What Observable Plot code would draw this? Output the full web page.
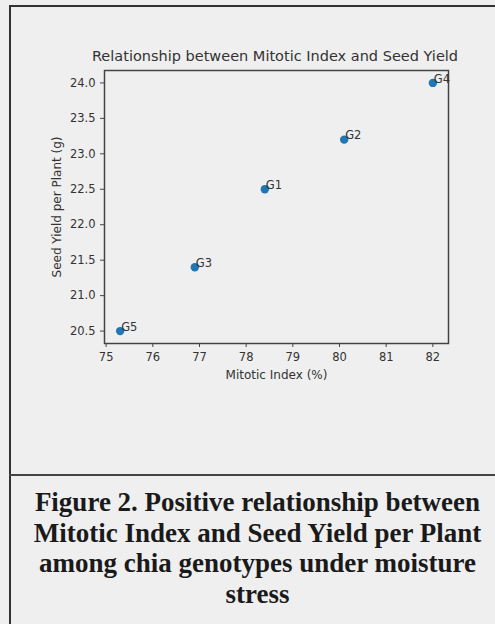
<!DOCTYPE html>
<html>
<head>
<meta charset="utf-8">
<script src="https://cdn.jsdelivr.net/npm/d3@7"></script>
<script src="https://cdn.jsdelivr.net/npm/@observablehq/plot@0.6"></script>
<style>
  html, body { margin: 0; padding: 0; background: #efefef; }
  body { width: 495px; height: 624px; position: relative; overflow: hidden; font-family: "DejaVu Sans", sans-serif; }
  #frame { position: absolute; left: 9px; top: 5px; width: 600px; height: 700px; border-left: 2px solid #333; border-top: 2px solid #333; box-sizing: border-box; }
  #divider { position: absolute; left: 9px; top: 474px; width: 600px; height: 0; border-top: 2px solid #444; }
  #title { position: absolute; left: 0; width: 550px; top: 48px; text-align: center; font-size: 14.5px; color: #333; white-space: nowrap; }
  #chart { position: absolute; left: 0; top: 40px; }
  #caption { position: absolute; left: 10px; width: 495px; top: 487px; text-align: center; font-family: "Liberation Serif", "Times New Roman", serif; font-weight: bold; font-size: 27px; line-height: 30.7px; color: #1a1a1a; white-space: nowrap; }
</style>
</head>
<body>
<div id="frame"></div>
<div id="divider"></div>
<div id="title">Relationship between Mitotic Index and Seed Yield</div>
<div id="chart"></div>
<div id="caption">Figure 2. Positive relationship between<br>Mitotic Index and Seed Yield per Plant<br>among chia genotypes under moisture<br>stress</div>
<script>
const genotypes = ["G1", "G2", "G3", "G4", "G5"];
const mitoticIndex = [78.4, 80.1, 76.9, 82.0, 75.3];
const seedYield = [22.5, 23.2, 21.4, 24.0, 20.5];
const xTicks = [75, 76, 77, 78, 79, 80, 81, 82];
const yTicks = [20.5, 21.0, 21.5, 22.0, 22.5, 23.0, 23.5, 24.0];

const data = genotypes.map((g, i) => ({ g, x: mitoticIndex[i], y: seedYield[i] }));

const chart = Plot.plot({
  width: 495,
  height: 360,
  marginLeft: 104,
  marginRight: 47,
  marginTop: 30,
  marginBottom: 57,
  style: { background: "transparent", fontFamily: "DejaVu Sans, sans-serif", color: "#333" },
  x: { domain: [74.965, 82.335] },
  y: { domain: [20.325, 24.175] },
  marks: [
    Plot.frame({ stroke: "#444", strokeWidth: 1.5 }),
    Plot.axisX({ ticks: xTicks, tickFormat: d => String(d), tickSize: 4, tickPadding: 5, fontSize: 11.5, label: "Mitotic Index (%)", labelAnchor: "center", labelArrow: "none", labelOffset: 35, stroke: "#444" }),
    Plot.axisY({ ticks: yTicks, tickFormat: d => d.toFixed(1), tickSize: 4, tickPadding: 5, fontSize: 11.5, label: "Seed Yield per Plant (g)", labelAnchor: "center", labelArrow: "none", labelOffset: 52, stroke: "#444" }),
    Plot.dot(data, { x: "x", y: "y", r: 4.2, fill: "#1f77b4", stroke: "none" }),
    Plot.text(data, { x: "x", y: "y", text: "g", textAnchor: "start", dx: 1, dy: -4, fontSize: 11.5, fill: "#333" })
  ]
});
// enlarge axis titles slightly
chart.querySelectorAll("[aria-label='x-axis label'] text, [aria-label='y-axis label'] text").forEach(t => t.setAttribute("font-size", "12px"));
document.getElementById("chart").appendChild(chart);
</script>
</body>
</html>
